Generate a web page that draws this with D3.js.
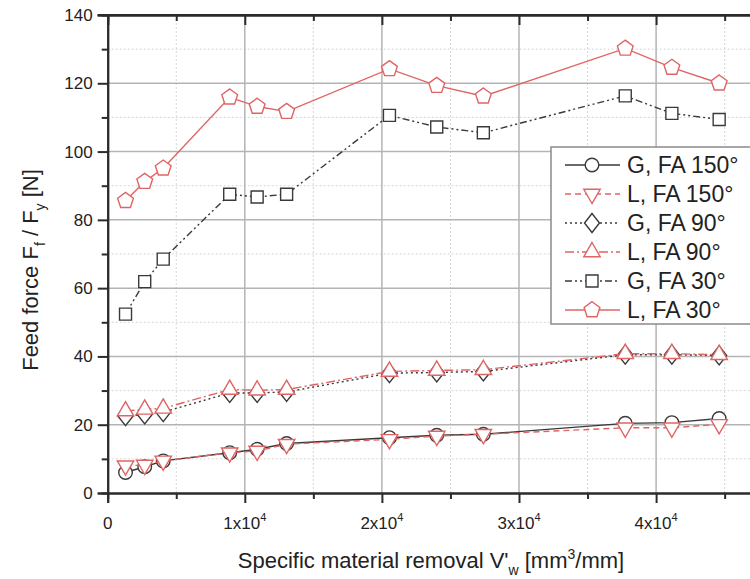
<!DOCTYPE html>
<html>
<head>
<meta charset="utf-8">
<script src="https://cdn.jsdelivr.net/npm/d3@7"></script>
<style>
  html, body { margin: 0; padding: 0; background: #fff; }
  svg { display: block; font-family: "Liberation Sans", Arial, sans-serif; }
</style>
</head>
<body>
<div id="chart"></div>
<script>
// Specific material removal V'w [mm3/mm] (shared by all series)
const removal = [1300, 2700, 4050, 8900, 10900, 13050, 20550, 24000, 27400, 37750, 41150, 44600];

// Feed force [N]
const gFa150 = [6.0, 7.7, 9.4, 11.8, 12.8, 14.5, 16.2, 16.9, 17.2, 20.4, 20.6, 21.8];
const lFa150 = [8.0, 8.2, 9.4, 11.8, 12.3, 14.3, 15.7, 16.7, 17.2, 19.1, 19.1, 20.1];
const gFa90 = [22.5, 23.0, 23.7, 29.3, 29.3, 29.6, 35.1, 35.3, 35.6, 40.5, 40.5, 40.3];
const lFa90 = [24.0, 24.5, 24.8, 30.3, 30.1, 30.3, 35.6, 35.9, 36.1, 40.8, 40.8, 40.5];
const gFa30 = [52.4, 61.9, 68.5, 87.5, 86.7, 87.5, 110.6, 107.2, 105.5, 116.3, 111.2, 109.4];
const lFa30 = [85.6, 91.2, 95.1, 115.9, 113.2, 111.7, 124.2, 119.3, 116.2, 130.2, 124.6, 120.0];

const seriesNames = ["G, FA 150°", "L, FA 150°", "G, FA 90°", "L, FA 90°", "G, FA 30°", "L, FA 30°"];
const seriesValues = [gFa150, lFa150, gFa90, lFa90, gFa30, lFa30];

const xTicks = [0, 10000, 20000, 30000, 40000, 50000];
const xLabels = [0, 10000, 20000, 30000, 40000];
const yTicks = [0, 20, 40, 60, 80, 100, 120, 140];

const width = 750, height = 579;
const black = "#3a3a3a", red = "#e06464";

// one style per series, same order as seriesNames
const styles = [
  { color: black, dash: null, marker: "circle" },
  { color: red, dash: "6,4", marker: "triDown" },
  { color: black, dash: "2,3", marker: "diamond" },
  { color: red, dash: "9,3,2,3", marker: "triUp" },
  { color: black, dash: "7,3,2,3,2,3", marker: "square" },
  { color: red, dash: null, marker: "pentagon" }
];

function polygon(n, r, rot) {
  const pts = d3.range(n).map(i => {
    const a = rot + i * 2 * Math.PI / n;
    return [r * Math.cos(a), r * Math.sin(a)];
  });
  return "M" + pts.map(p => p.join(",")).join("L") + "Z";
}

const markerPath = {
  circle: d3.symbol(d3.symbolCircle, 145)(),
  square: "M-6,-6L6,-6L6,6L-6,6Z",
  diamond: "M0,-9.5L7.5,0L0,9.5L-7.5,0Z",
  triUp: polygon(3, 9.5, -Math.PI / 2),
  triDown: polygon(3, 9.5, Math.PI / 2),
  pentagon: polygon(5, 8.3, -Math.PI / 2)
};

const x = d3.scaleLinear().domain([0, 50000]).range([107.7, 793.2]);
const y = d3.scaleLinear().domain([0, 140]).range([493, 15]);

const svg = d3.select("#chart")
  .append("svg")
  .attr("width", width)
  .attr("height", height);

// Grid: minor dotted, major solid
const minorX = d3.range(5000, 50001, 10000);
const minorY = d3.range(10, 140, 20);

svg.append("g").selectAll("line")
  .data(minorX)
  .join("line")
  .attr("x1", d => x(d)).attr("x2", d => x(d))
  .attr("y1", y(0)).attr("y2", y(140))
  .attr("stroke", "#d6d6d6").attr("stroke-dasharray", "2,2");

svg.append("g").selectAll("line")
  .data(minorY)
  .join("line")
  .attr("x1", x(0)).attr("x2", width)
  .attr("y1", d => y(d)).attr("y2", d => y(d))
  .attr("stroke", "#d6d6d6").attr("stroke-dasharray", "2,2");

svg.append("g").selectAll("line")
  .data(xTicks.slice(1))
  .join("line")
  .attr("x1", d => x(d)).attr("x2", d => x(d))
  .attr("y1", y(0)).attr("y2", y(140))
  .attr("stroke", "#b4b4b4").attr("stroke-width", 1.5);

svg.append("g").selectAll("line")
  .data(yTicks.slice(1, -1))
  .join("line")
  .attr("x1", x(0)).attr("x2", width)
  .attr("y1", d => y(d)).attr("y2", d => y(d))
  .attr("stroke", "#b4b4b4").attr("stroke-width", 1.5);

// Series
const line = d3.line()
  .x(d => x(d[0]))
  .y(d => y(d[1]));

seriesValues.forEach((vals, i) => {
  const st = styles[i];
  const pts = vals.map((v, j) => [removal[j], v]);
  const g = svg.append("g");

  g.append("path")
    .datum(pts)
    .attr("d", line)
    .attr("fill", "none")
    .attr("stroke", st.color)
    .attr("stroke-width", 1.4)
    .attr("stroke-dasharray", st.dash);

  g.selectAll("path.mk")
    .data(pts)
    .join("path")
    .attr("class", "mk")
    .attr("transform", d => `translate(${x(d[0])},${y(d[1])})`)
    .attr("d", markerPath[st.marker])
    .attr("fill", "#fff")
    .attr("stroke", st.color)
    .attr("stroke-width", 1.4);
});

// Axes
const axisColor = "#2b2b2b";
const xAxis = svg.append("g").attr("transform", `translate(0,${y(0)})`)
  .call(d3.axisBottom(x).tickValues(xTicks).tickSize(10).tickFormat(""));
xAxis.append("g").call(d3.axisBottom(x).tickValues(minorX).tickSize(6).tickFormat(""));

const yAxis = svg.append("g").attr("transform", `translate(${x(0)},0)`)
  .call(d3.axisLeft(y).tickValues(yTicks).tickSize(10).tickFormat(""));
yAxis.append("g").call(d3.axisLeft(y).tickValues(minorY).tickSize(6).tickFormat(""));

const topAxis = svg.append("g").attr("transform", `translate(0,${y(140)})`)
  .call(d3.axisTop(x).tickValues(xTicks).tickSize(-10).tickFormat(""));
topAxis.append("g").call(d3.axisTop(x).tickValues(minorX).tickSize(-6).tickFormat(""));

svg.selectAll(".domain").attr("stroke", axisColor).attr("stroke-width", 2);
svg.selectAll(".tick line").attr("stroke", axisColor).attr("stroke-width", 2);
// top frame starts at the 140 tick
svg.append("line")
  .attr("x1", x(0) - 10).attr("x2", width)
  .attr("y1", y(140)).attr("y2", y(140))
  .attr("stroke", axisColor).attr("stroke-width", 2);

// Tick labels
svg.append("g").selectAll("text")
  .data(yTicks)
  .join("text")
  .attr("x", x(0) - 15)
  .attr("y", d => y(d) + 6)
  .attr("text-anchor", "end")
  .attr("font-size", 17)
  .attr("fill", "#222")
  .text(d => d);

const xl = svg.append("g").selectAll("text")
  .data(xLabels)
  .join("text")
  .attr("x", d => x(d))
  .attr("y", 529)
  .attr("text-anchor", "middle")
  .attr("font-size", 17)
  .attr("fill", "#222");
xl.filter(d => d === 0).text("0");
xl.filter(d => d > 0).each(function (d) {
  const t = d3.select(this);
  t.append("tspan").text(`${d / 10000}x10`);
  t.append("tspan").attr("dy", -8).attr("font-size", 11).text("4");
});

// Axis titles
const xt = svg.append("text")
  .attr("x", 431)
  .attr("y", 568)
  .attr("text-anchor", "middle")
  .attr("font-size", 22)
  .attr("fill", "#222");
xt.append("tspan").text("Specific material removal V'");
xt.append("tspan").attr("dy", 7).attr("font-size", 14).text("w");
xt.append("tspan").attr("dy", -7).text(" [mm");
xt.append("tspan").attr("dy", -9).attr("font-size", 14).text("3");
xt.append("tspan").attr("dy", 9).text("/mm]");

const yt = svg.append("text")
  .attr("transform", "translate(38,270) rotate(-90)")
  .attr("text-anchor", "middle")
  .attr("font-size", 22)
  .attr("fill", "#222");
yt.append("tspan").text("Feed force F");
yt.append("tspan").attr("dy", 7).attr("font-size", 14).text("f");
yt.append("tspan").attr("dy", -7).text(" / F");
yt.append("tspan").attr("dy", 7).attr("font-size", 14).text("y");
yt.append("tspan").attr("dy", -7).text(" [N]");

// Legend
const legend = svg.append("g").attr("transform", "translate(551,147)");
legend.append("rect")
  .attr("width", 220).attr("height", 177)
  .attr("fill", "#fff")
  .attr("stroke", "#8a8a8a").attr("stroke-width", 1.5);

const items = legend.selectAll("g.item")
  .data(seriesNames)
  .join("g")
  .attr("class", "item")
  .attr("transform", (d, i) => `translate(0,${18 + i * 29})`);

items.append("line")
  .attr("x1", 14).attr("x2", 69)
  .attr("stroke", (d, i) => styles[i].color)
  .attr("stroke-width", 1.4)
  .attr("stroke-dasharray", (d, i) => styles[i].dash);

items.append("path")
  .attr("transform", "translate(41,0)")
  .attr("d", (d, i) => markerPath[styles[i].marker])
  .attr("fill", "#fff")
  .attr("stroke", (d, i) => styles[i].color)
  .attr("stroke-width", 1.4);

items.append("text")
  .attr("x", 76)
  .attr("y", 8)
  .attr("font-size", 23)
  .attr("fill", "#222")
  .text(d => d);
</script>
</body>
</html>
